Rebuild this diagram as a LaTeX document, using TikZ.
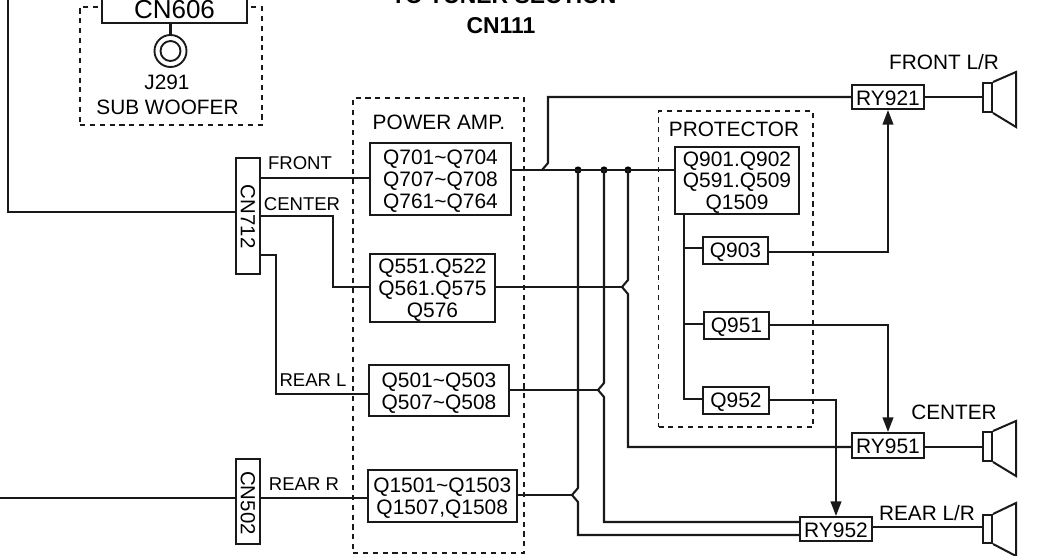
\documentclass[tikz,border=0pt]{standalone}
\usepackage{fontspec}
\setmainfont{Liberation Sans}
\usetikzlibrary{arrows.meta}
\newcommand{\px}[1]{\fontsize{#1}{16.3pt}\selectfont}
\tikzset{
  wire/.style={draw=black!90,line width=1.55pt},
  arrowwire/.style={wire,-{Triangle[length=11pt,width=8pt]}},
  boxn/.style={draw=black!90,line width=1.5pt,fill=white,inner sep=0pt},
  boxtxt/.style={inner sep=0pt,align=center,font=\px{15.7}},
  dashbox/.style={draw=black!90,line width=1.4pt,dash pattern=on 3.8pt off 3.6pt,inner sep=0pt},
  lab/.style={inner sep=0pt,align=center,font=\px{15.6}},
  slab/.style={inner sep=0pt,font=\px{13.9}},
  bold/.style={inner sep=0pt,font=\px{17.2}\bfseries},
  dotn/.style={circle,fill=black,inner sep=0pt,minimum size=5.4pt},
  spk/.style={draw=black!90,line width=1.5pt,line join=miter}
}
% \bx[text shift]{name}{x1}{y1}{x2}{y2}{text}
\newcommand{\bx}[7][2]{\node[boxn,minimum width={(#5-#3)*0.75pt},minimum height={(#6-#4)*0.75pt}] (#2) at ({(#3+#5)/2},{(#4+#6)/2}) {};
  \path (#2.center) ++(0,#1) node[boxtxt] (#2t) {#7};}
\newcommand{\dbx}[5]{\node[dashbox,minimum width={(#4-#2)*0.75pt},minimum height={(#5-#3)*0.75pt}] (#1) at ({(#2+#4)/2},{(#3+#5)/2}) {};}
% speaker: name, y rect top, rect bottom, cone top, cone bottom
\newcommand{\spkr}[5]{%
  \node[draw=black!90,line width=1.5pt,inner sep=0pt,minimum width=6.75pt,minimum height={(#3-#2)*0.75pt}] (#1) at (987.5,{(#2+#3)/2}) {};
  \draw[spk] (#1.north east) -- (1016,#4) -- (1016,#5) -- (#1.south east);
}
\begin{document}
\begin{tikzpicture}[x=0.75pt,y=-0.75pt]
\useasboundingbox (0,0) rectangle (1057,556);
\clip (0,0) rectangle (1057,556);
% dashed frames
\dbx{subw}{80}{7}{262}{125}
\dbx{amp}{353}{98}{524}{553}
\dbx{prot}{658.5}{111}{813}{427}
% top
\node[bold] (tuner) at (504,-4) {TO TUNER SECTION};
\node[bold] (cn111) at (501,26) {CN111};
% sub woofer
\bx[3.5]{cn606}{102}{-12}{247}{23.5}{\px{19.5}CN606}
\node[draw=black!90,line width=1.4pt,circle,minimum size=24pt,inner sep=0pt] (jack) at (170.5,51) {};
\node[draw=black!90,line width=1.4pt,circle,minimum size=15pt,inner sep=0pt] (jacki) at (170.5,51) {};
\node[lab] (j291) at (167,82) {J291};
\node[lab] (sw) at (167.5,107) {SUB WOOFER};
\draw[wire] (cn606.south -| jack.north) -- (jack.north);
% connectors
\node[boxn,minimum width=18pt,minimum height=87pt] (cn712) at (248,216) {};
\node[inner sep=0pt,rotate=-90,font=\px{15.3}] (cn712t) at (248,216.7) {CN712};
\node[boxn,minimum width=18pt,minimum height=64pt] (cn502) at (248,501.5) {};
\node[inner sep=0pt,rotate=-90,font=\px{15.3}] (cn502t) at (248,503) {CN502};
% amp boxes
\bx{qa}{370}{143}{511}{215}{Q701\char`~Q704\\Q707\char`~Q708\\Q761\char`~Q764}
\bx{qb}{370}{254}{495}{322}{Q551.Q522\\Q561.Q575\\Q576}
\bx[2.5]{qc}{369}{365}{509}{416}{Q501\char`~Q503\\Q507\char`~Q508}
\bx[2.5]{qd}{368}{470}{516.5}{522}{Q1501\char`~Q1503\\Q1507,Q1508}
% protector
\node[lab] (ptxt) at (734,129.5) {PROTECTOR};
\node[lab] (atxt) at (439,122) {POWER AMP.};
\bx{qp}{675}{147}{799}{214}{Q901.Q902\\Q591.Q509\\Q1509}
\bx{q903}{703}{237}{768}{264}{Q903}
\bx{q951}{704}{312}{769}{339}{Q951}
\bx{q952}{703}{387}{769}{414}{Q952}
% relays
\bx[1]{ry921}{852}{85}{924}{109}{RY921}
\bx[1]{ry951}{852}{433}{924}{458}{RY951}
\bx[1]{ry952}{800}{517}{872}{541}{RY952}
% speakers
\spkr{sa}{83}{112}{72}{127}
\spkr{sb}{432}{461}{421}{476}
\spkr{sc}{515}{543}{503}{556}
% labels
\node[slab] (lfront) at (300,163) {FRONT};
\node[slab] (lcenter) at (302,204) {CENTER};
\node[slab] (lrl) at (313,380) {REAR L};
\node[slab] (lrr) at (304,484) {REAR R};
\node[lab] (lfr) at (944,62) {FRONT L/R};
\node[lab] (lc) at (954,412) {CENTER};
\node[lab] (lrlr) at (927,513) {REAR L/R};
% dots
\node[dotn] (d1) at (578,170) {};
\node[dotn] (d2) at (604,170) {};
\node[dotn] (d3) at (628,170) {};
% input wires
\coordinate (tl) at (8,0);
\coordinate (el) at (0,498);
\draw[wire] (tl) |- (cn712.west |- 0,212);
\draw[wire] (el) -- (cn502.west |- el);
\draw[wire] (cn502.east |- el) -- (qd.west |- el);
\draw[wire] (cn712.east |- 0,178) -- (qa.west |- 0,178);
\draw[wire] (cn712.east |- 0,216) -- (333,216) -- (333,287) -- (qb.west |- 0,287);
\draw[wire] (cn712.east |- 0,255) -- (276,255) -- (276,394) -- (qc.west |- 0,394);
% bus
\draw[wire] (qa.east |- 0,170) -- (qp.west |- 0,170);
\draw[wire] (542,170) -- (548,163) -- (548,97) -- (ry921.west |- 0,97);
\draw[wire] (d1.center) -- (578,488) -- (572,495) -- (578,502) -- (578,535) -- (ry952.west |- 0,535);
\draw[wire] (d2.center) -- (604,383) -- (598,390) -- (604,397) -- (604,522) -- (ry952.west |- 0,522);
\draw[wire] (d3.center) -- (628,280) -- (622,287) -- (628,294) -- (628,447) -- (ry951.west |- 0,447);
\draw[wire] (qb.east |- 0,287) -- (622,287);
\draw[wire] (qc.east |- 0,390) -- (598,390);
\draw[wire] (qd.east |- 0,495) -- (572,495);
% protector wires
\draw[wire] (qp.south -| 684,0) -- (684,399) -- (q952.west |- 0,399);
\draw[wire] (684,248) -- (q903.west |- 0,248);
\draw[wire] (684,324) -- (q951.west |- 0,324);
\draw[arrowwire] (q903.east |- 0,252) -- (888,252) -- (ry921.south -| 888,0);
\draw[arrowwire] (q951.east |- 0,325) -- (888,325) -- (ry951.north -| 888,0);
\draw[arrowwire] (q952.east |- 0,400) -- (836,400) -- (ry952.north -| 836,0);
% relay to speaker
\draw[wire] (ry921.east |- 0,97) -- (sa.west |- 0,97);
\draw[wire] (ry951.east |- 0,447) -- (sb.west |- 0,447);
\draw[wire] (ry952.east |- 0,527) -- (sc.west |- 0,527);
\end{tikzpicture}
\end{document}
